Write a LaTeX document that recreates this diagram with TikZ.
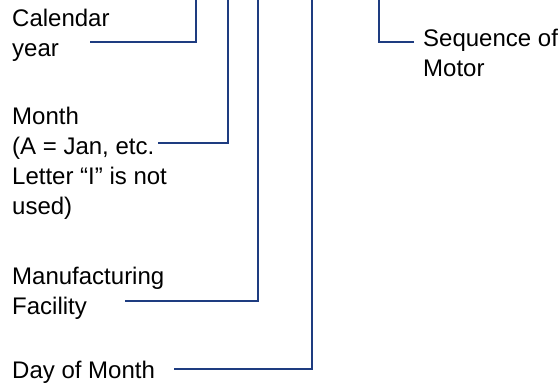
\documentclass[tikz,border=0pt]{standalone}
\usepackage{fontspec}
\setmainfont{Liberation Sans}
\definecolor{navy}{HTML}{1E3C80}
\begin{document}
\begin{tikzpicture}[x=1pt,y=-1pt,
  lbl/.style={anchor=base west,inner sep=0pt,align=left,font=\fontsize{24}{30}\selectfont},
  conn/.style={draw=navy,line width=2pt,line join=miter}]
\useasboundingbox (0,0) rectangle (558,385);
\node[lbl] (cal) at (12,57) {Calendar\\year};
\node[lbl] (mon) at (12,215) {Month\\(A = Jan, etc.\\Letter “I” is not\\used)};
\node[lbl] (man) at (12,314.5) {Manufacturing\\Facility};
\node[lbl] (day) at (12,378.5) {Day of Month};
\node[lbl] (seq) at (423,77) {Sequence of\\Motor};
\coordinate (calS) at (90,41.7);
\coordinate (calT) at (195.5,0);
\coordinate (monS) at (158,142.7);
\coordinate (monT) at (228,0);
\coordinate (manS) at (125,300.7);
\coordinate (manT) at (257.5,0);
\coordinate (dayS) at (174,369);
\coordinate (dayT) at (312,0);
\coordinate (seqS) at (414,41.7);
\coordinate (seqT) at (379,0);
\draw[conn] (calS) -| (calT);
\draw[conn] (monS) -| (monT);
\draw[conn] (manS) -| (manT);
\draw[conn] (dayS) -| (dayT);
\draw[conn] (seqS) -| (seqT);
\end{tikzpicture}
\end{document}
